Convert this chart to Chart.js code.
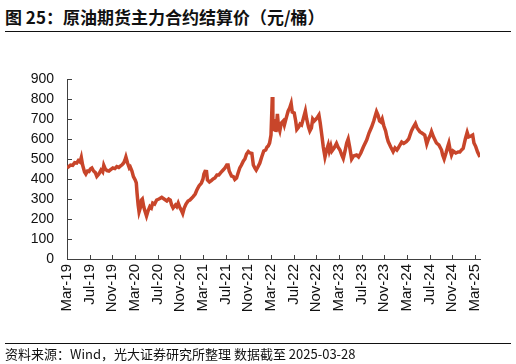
<!DOCTYPE html>
<html>
<head>
<meta charset="utf-8">
<script src="https://cdn.jsdelivr.net/npm/chart.js@4.4.1/dist/chart.umd.min.js"></script>
<style>
  html, body { margin: 0; padding: 0; background: #fff; }
  #wrap { position: relative; width: 516px; height: 364px; overflow: hidden; }
  #title { position: absolute; left: 5px; top: 4px; font: bold 17px "Noto Sans CJK SC", sans-serif; color: #111; white-space: nowrap; }
  #rule1 { position: absolute; left: 5px; top: 31px; width: 506px; height: 1px; background: #111; }
  #rule2 { position: absolute; left: 5px; top: 343px; width: 506px; height: 1px; background: #111; }
  #source { position: absolute; left: 5px; top: 344px; font: 13px "Noto Sans CJK SC", sans-serif; color: #111; white-space: nowrap; }
  canvas { position: absolute; left: 0; top: 0; }
</style>
</head>
<body>
<div id="wrap">
  <div id="title">图 25：原油期货主力合约结算价（元/桶）</div>
  <div id="rule1"></div>
  <canvas id="priceChart" width="516" height="364"></canvas>
  <div id="rule2"></div>
  <div id="source">资料来源：Wind，光大证券研究所整理 数据截至 2025-03-28</div>
</div>
<script>
// Settlement price of the SC crude main contract (yuan / barrel)
const dates = [
  '2019-03-01', '2019-03-10', '2019-03-20', '2019-04-01', '2019-04-12', '2019-04-23', '2019-05-01', '2019-05-10', '2019-05-17', '2019-05-24',
  '2019-06-04', '2019-06-11', '2019-06-20', '2019-06-28', '2019-07-05', '2019-07-13', '2019-07-22', '2019-08-01', '2019-08-09', '2019-08-20',
  '2019-09-01', '2019-09-10', '2019-09-16', '2019-09-24', '2019-10-03', '2019-10-13', '2019-10-24', '2019-11-04', '2019-11-15', '2019-11-25',
  '2019-12-05', '2019-12-15', '2019-12-22', '2020-01-01', '2020-01-08', '2020-01-13', '2020-01-22', '2020-02-01', '2020-02-06', '2020-02-15',
  '2020-02-23', '2020-03-02', '2020-03-08', '2020-03-12', '2020-03-18', '2020-03-23', '2020-03-31', '2020-04-05', '2020-04-10', '2020-04-18',
  '2020-04-24', '2020-05-02', '2020-05-10', '2020-05-20', '2020-05-28', '2020-06-05', '2020-06-15', '2020-06-26', '2020-07-08', '2020-07-23',
  '2020-08-05', '2020-08-20', '2020-08-30', '2020-09-08', '2020-09-15', '2020-09-23', '2020-10-05', '2020-10-12', '2020-10-20', '2020-10-30',
  '2020-11-06', '2020-11-14', '2020-11-22', '2020-12-01', '2020-12-12', '2020-12-22', '2021-01-02', '2021-01-09', '2021-01-20', '2021-01-29',
  '2021-02-10', '2021-02-23', '2021-03-01', '2021-03-06', '2021-03-12', '2021-03-20', '2021-03-25', '2021-04-05', '2021-04-15', '2021-04-25',
  '2021-05-04', '2021-05-15', '2021-05-25', '2021-06-05', '2021-06-18', '2021-06-28', '2021-07-07', '2021-07-14', '2021-07-20', '2021-08-02',
  '2021-08-12', '2021-08-20', '2021-08-29', '2021-09-07', '2021-09-16', '2021-09-25', '2021-10-05', '2021-10-13', '2021-10-22', '2021-11-01',
  '2021-11-10', '2021-11-20', '2021-11-28', '2021-12-06', '2021-12-13', '2021-12-22', '2022-01-02', '2022-01-12', '2022-01-23', '2022-02-03',
  '2022-02-10', '2022-02-17', '2022-02-24', '2022-03-01', '2022-03-04', '2022-03-08', '2022-03-11', '2022-03-16', '2022-03-23', '2022-03-28',
  '2022-04-05', '2022-04-11', '2022-04-18', '2022-04-26', '2022-05-06', '2022-05-12', '2022-05-24', '2022-06-02', '2022-06-10', '2022-06-18',
  '2022-06-24', '2022-07-04', '2022-07-12', '2022-07-18', '2022-07-28', '2022-08-05', '2022-08-13', '2022-08-22', '2022-09-03', '2022-09-10',
  '2022-09-20', '2022-09-27', '2022-10-05', '2022-10-12', '2022-10-20', '2022-10-30', '2022-11-08', '2022-11-15', '2022-11-22', '2022-12-01',
  '2022-12-08', '2022-12-17', '2022-12-26', '2023-01-04', '2023-01-10', '2023-01-18', '2023-01-24', '2023-02-05', '2023-02-18', '2023-02-26',
  '2023-03-06', '2023-03-16', '2023-03-24', '2023-04-03', '2023-04-12', '2023-04-20', '2023-04-28', '2023-05-08', '2023-05-18', '2023-06-04',
  '2023-06-15', '2023-06-27', '2023-07-10', '2023-07-28', '2023-08-10', '2023-08-24', '2023-09-05', '2023-09-20', '2023-09-28', '2023-10-06',
  '2023-10-13', '2023-10-20', '2023-10-29', '2023-11-08', '2023-11-15', '2023-11-22', '2023-12-05', '2023-12-18', '2023-12-28', '2024-01-08',
  '2024-01-14', '2024-01-24', '2024-02-03', '2024-02-14', '2024-02-28', '2024-03-10', '2024-03-25', '2024-04-05', '2024-04-16', '2024-04-25',
  '2024-05-09', '2024-05-20', '2024-06-05', '2024-06-10', '2024-06-16', '2024-06-25', '2024-07-05', '2024-07-11', '2024-07-22', '2024-08-07',
  '2024-08-20', '2024-09-04', '2024-09-10', '2024-09-18', '2024-09-28', '2024-10-08', '2024-10-13', '2024-10-20', '2024-10-27', '2024-11-05',
  '2024-11-20', '2024-12-02', '2024-12-11', '2024-12-20', '2024-12-29', '2025-01-10', '2025-01-20', '2025-01-28', '2025-02-10', '2025-02-19',
  '2025-02-26', '2025-03-05', '2025-03-15', '2025-03-28'
];
const prices = [
  455, 462, 470, 468, 482, 480, 492, 485, 508, 470,
  435, 425, 440, 438, 450, 455, 440, 432, 413, 425,
  445, 435, 468, 450, 442, 440, 448, 455, 452, 462,
  458, 466, 470, 480, 495, 510, 480, 455, 460, 440,
  412, 395, 380, 330, 270, 235, 260, 295, 300, 260,
  240, 215, 240, 262, 255, 280, 275, 295, 300, 308,
  300, 290, 300, 295, 270, 255, 270, 262, 280, 255,
  245, 228, 255, 275, 290, 295, 305, 312, 325, 345,
  365, 380, 400, 425, 438, 437, 395, 385, 392, 400,
  405, 420, 420, 432, 445, 455, 470, 470, 440, 415,
  412, 398, 405, 430, 455, 470, 490, 500, 525, 537,
  530, 528, 470, 455, 445, 460, 480, 510, 540, 545,
  560, 565, 580, 620, 700, 810, 700, 640, 700, 635,
  725, 660, 640, 680, 690, 670, 712, 740, 755, 778,
  735, 730, 690, 648, 660, 675, 670, 700, 740, 700,
  660, 640, 655, 700, 690, 700, 710, 720, 680, 612,
  560, 510, 545, 570, 540, 565, 540, 555, 578, 560,
  545, 520, 503, 540, 580, 600, 560, 500, 515, 520,
  510, 530, 560, 595, 630, 660, 690, 737, 720, 690,
  685, 700, 665, 640, 610, 587, 560, 537, 555, 545,
  553, 570, 585, 578, 587, 600, 640, 660, 677, 655,
  637, 630, 620, 600, 575, 600, 620, 637, 610, 580,
  570, 545, 520, 500, 530, 565, 580, 545, 520, 540,
  530, 535, 535, 545, 553, 600, 633, 610, 615, 620,
  580, 562, 535, 510
];
const tickLabels = [
  'Mar-19', 'Jul-19', 'Nov-19', 'Mar-20', 'Jul-20', 'Nov-20', 'Mar-21',
  'Jul-21', 'Nov-21', 'Mar-22', 'Jul-22', 'Nov-22', 'Mar-23', 'Jul-23',
  'Nov-23', 'Mar-24', 'Jul-24', 'Nov-24', 'Mar-25'
];
const yTicks = [0, 100, 200, 300, 400, 500, 600, 700, 800, 900];

// months elapsed since 2019-03-01
function toMonth(s) {
  const [y, m, d] = s.split('-').map(Number);
  return (y - 2019) * 12 + (m - 3) + (d - 1) / 30.5;
}

const points = dates.map((d, i) => ({ x: toMonth(d), y: prices[i] }));
const axisColor = '#404040';
const fontFamily = '"Liberation Sans", Arial, sans-serif';

// tick marks pointing into the plot area
const innerTicks = {
  id: 'innerTicks',
  afterDraw(chart) {
    const { ctx, chartArea, scales } = chart;
    ctx.save();
    ctx.strokeStyle = axisColor;
    ctx.lineWidth = 1;
    ctx.beginPath();
    for (const v of yTicks) {
      const py = Math.round(scales.y.getPixelForValue(v)) + 0.5;
      ctx.moveTo(chartArea.left, py);
      ctx.lineTo(chartArea.left + 5, py);
    }
    tickLabels.forEach((_, i) => {
      const px = Math.round(scales.x.getPixelForValue(i * 4)) + 0.5;
      ctx.moveTo(px, chartArea.bottom);
      ctx.lineTo(px, chartArea.bottom - 4);
    });
    ctx.stroke();
    ctx.restore();
  }
};

new Chart(document.getElementById('priceChart').getContext('2d'), {
  type: 'line',
  data: {
    datasets: [{
      data: points,
      borderColor: '#C8452A',
      borderWidth: 3.5,
      pointRadius: 0,
      tension: 0,
      fill: false
    }]
  },
  options: {
    responsive: false,
    animation: false,
    layout: { padding: { top: 79, right: 36, bottom: 0, left: 0 } },
    plugins: { legend: { display: false }, tooltip: { enabled: false } },
    scales: {
      x: {
        type: 'linear',
        min: 0,
        max: toMonth(dates[dates.length - 1]),
        afterBuildTicks: s => { s.ticks = tickLabels.map((_, i) => ({ value: i * 4 })); },
        afterFit: s => { s.height = 105; },
        grid: { drawOnChartArea: false, drawTicks: false },
        border: { display: true, color: axisColor, width: 1 },
        ticks: {
          minRotation: 90,
          maxRotation: 90,
          autoSkip: false,
          padding: 5,
          color: '#111',
          font: { family: fontFamily, size: 15 },
          callback: (v, i) => tickLabels[i]
        }
      },
      y: {
        min: 0,
        max: 900,
        afterBuildTicks: s => { s.ticks = yTicks.map(v => ({ value: v })); },
        afterFit: s => { s.width = 67; },
        grid: { drawOnChartArea: false, drawTicks: false },
        border: { display: true, color: axisColor, width: 1 },
        ticks: { padding: 13, color: '#111', font: { family: fontFamily, size: 14 } }
      }
    }
  },
  plugins: [innerTicks]
});
</script>
</body>
</html>
